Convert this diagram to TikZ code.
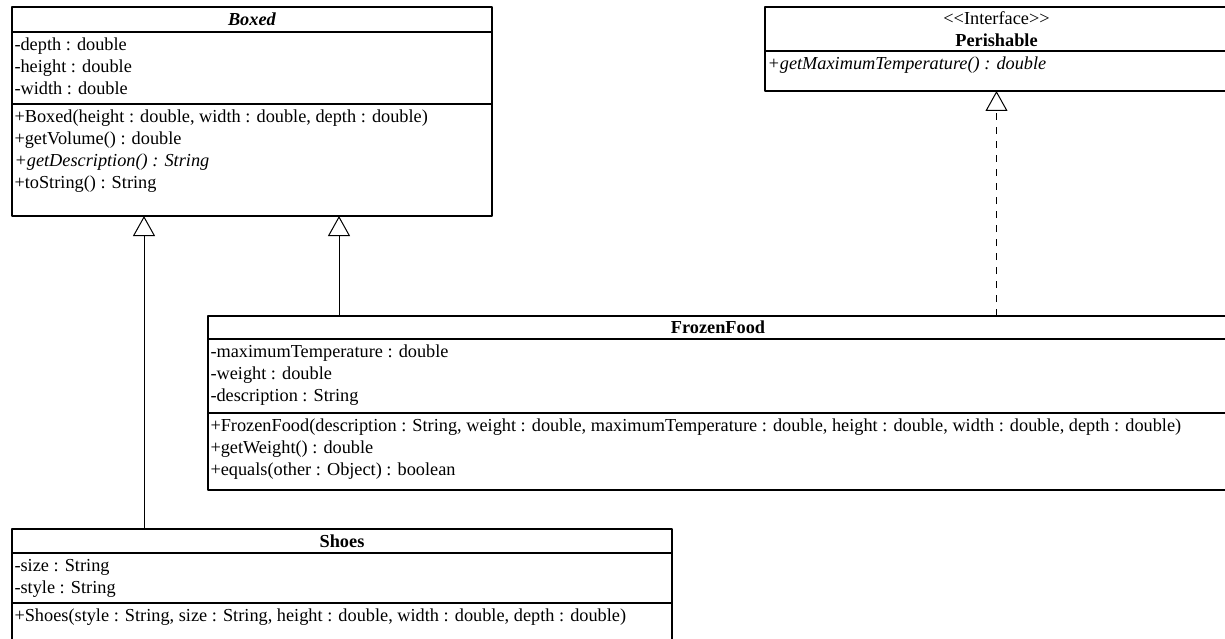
\documentclass[tikz,border=0pt]{standalone}
\usepackage{fontspec}
\setmainfont{Liberation Serif}
\usetikzlibrary{arrows.meta,positioning}

% one compartment of a class: height, width, lines
\newcommand{\partbox}[3]{\parbox[t][#1][t]{#2}{\strut#3}}

\begin{document}
\begin{tikzpicture}[x=1pt,y=-1pt,line join=round,
    font=\fontsize{18.3}{22}\selectfont,
    classname/.style={draw,line width=1.1pt,inner sep=0pt,outer sep=0pt,align=center},
    compart/.style={draw,line width=1.1pt,inner xsep=2.5pt,inner ysep=3pt,outer sep=0pt},
    extends/.style={line width=1pt,-{Triangle[open,length=20pt,width=22pt]}},
    realizes/.style={extends,dash pattern=on 7pt off 7pt}]
  \useasboundingbox (0,0) rectangle (1225,639);
  \clip (0,0) rectangle (1225,639);

  % Boxed
  \node[classname,anchor=north west,minimum width=480pt,minimum height=25pt] (boxedName) at (12,7) {\textbf{\textit{Boxed}}};
  \node[compart,below=0pt of boxedName] (boxedAttr) {\partbox{66pt}{475pt}{-depth : double\\-height : double\\-width : double}};
  \node[compart,below=0pt of boxedAttr] (boxedOps) {\partbox{106pt}{475pt}{+Boxed(height : double, width : double, depth : double)\\+getVolume() : double\\\textit{+getDescription() : String}\\+toString() : String}};

  % Perishable
  \node[classname,anchor=north west,minimum width=463pt,minimum height=44pt] (perishName) at (765,7) {<{}<Interface>{}>\\\textbf{Perishable}};
  \node[compart,below=0pt of perishName] (perishOps) {\partbox{34pt}{458pt}{\textit{+getMaximumTemperature() : double}}};

  % FrozenFood
  \node[classname,anchor=north west,minimum width=1020pt,minimum height=23pt] (frozenName) at (208,316) {\textbf{FrozenFood}};
  \node[compart,below=0pt of frozenName] (frozenAttr) {\partbox{68pt}{1015pt}{-maximumTemperature : double\\-weight : double\\-description : String}};
  \node[compart,below=0pt of frozenAttr] (frozenOps) {\partbox{71pt}{1015pt}{+FrozenFood(description : String, weight : double, maximumTemperature : double, height : double, width : double, depth : double)\\+getWeight() : double\\+equals(other : Object) : boolean}};

  % Shoes
  \node[classname,anchor=north west,minimum width=660pt,minimum height=24pt] (shoesName) at (12,529) {\textbf{Shoes}};
  \node[compart,below=0pt of shoesName] (shoesAttr) {\partbox{44pt}{655pt}{-size : String\\-style : String}};
  \node[compart,below=0pt of shoesAttr] (shoesOps) {\partbox{34pt}{655pt}{+Shoes(style : String, size : String, height : double, width : double, depth : double)}};

  % generalisation and realisation
  \draw[extends] ([xshift=132pt]shoesName.north west) -- ([xshift=132pt]boxedOps.south west);
  \draw[extends] ([xshift=131pt]frozenName.north west) -- ([xshift=327pt]boxedOps.south west);
  \draw[realizes] (frozenName.north -| perishOps.south) -- (perishOps.south);
\end{tikzpicture}
\end{document}
